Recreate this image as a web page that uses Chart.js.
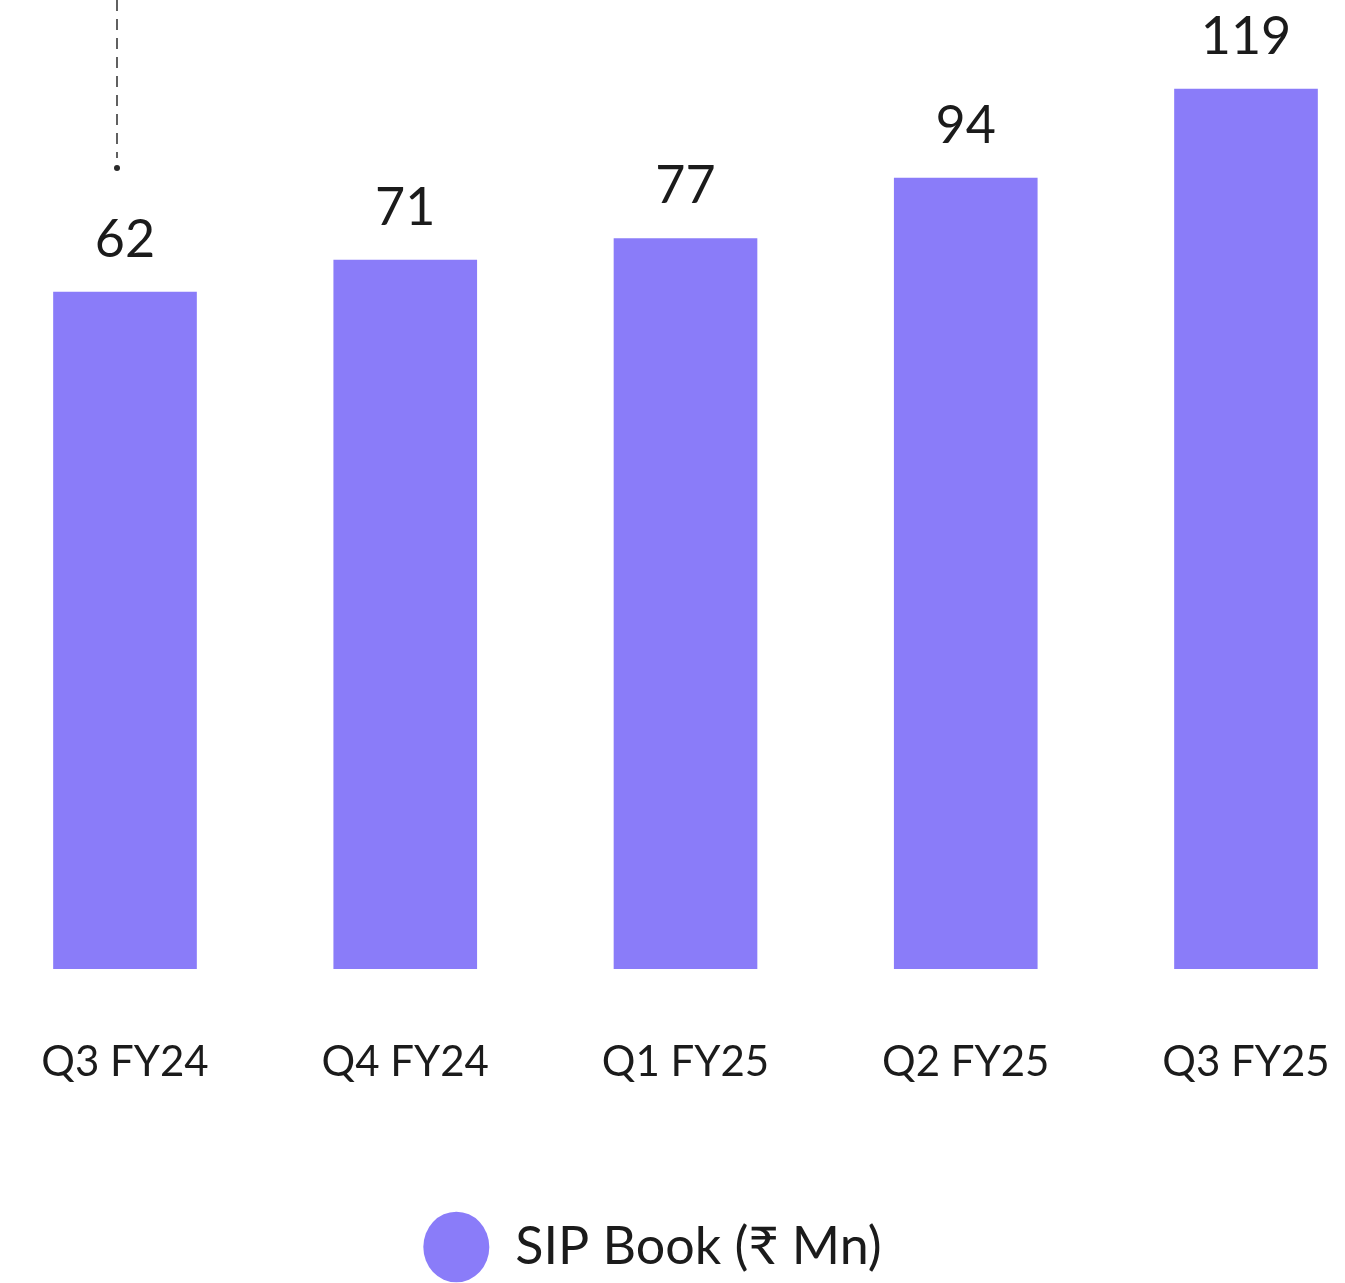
<!DOCTYPE html>
<html>
<head>
<meta charset="utf-8">
<script src="https://cdn.jsdelivr.net/npm/chart.js@4.4.0/dist/chart.umd.min.js"></script>
<style>
  html, body { margin: 0; padding: 0; background: #fff; }
  #wrap { width: 1345px; height: 1283px; }
</style>
</head>
<body>
<div id="wrap"><canvas id="sip-chart"></canvas></div>
<script>
const quarters = ['Q3 FY24', 'Q4 FY24', 'Q1 FY25', 'Q2 FY25', 'Q3 FY25'];
const sipBook = [62, 71, 77, 94, 119];
const seriesName = 'SIP Book (\u20B9 Mn)';

const barColor = '#8a7cf9';
const textColor = '#1b1b1b';
const fontFamily = 'Lato, "Noto Sans", sans-serif';

// the bars in the source are not drawn from zero, so the hidden axis starts below it
const axisMin = -128;
const axisMax = 130;

const valueLabels = {
    id: 'valueLabels',
    afterDatasetsDraw(chart) {
        const ctx = chart.ctx;
        const meta = chart.getDatasetMeta(0);
        ctx.save();
        ctx.font = '52px ' + fontFamily;
        ctx.fillStyle = textColor;
        ctx.textAlign = 'center';
        ctx.textBaseline = 'middle';
        meta.data.forEach((bar, i) => {
            ctx.fillText(sipBook[i], bar.x, bar.y - 52);
        });
        ctx.restore();
    }
};

// dashed leader line coming down from above onto the first bar's label
const leaderLine = {
    id: 'leaderLine',
    afterDatasetsDraw(chart) {
        const ctx = chart.ctx;
        const first = chart.getDatasetMeta(0).data[0];
        const x = first.x - 8;
        const endY = first.y - 124;
        ctx.save();
        ctx.strokeStyle = '#3a3a3a';
        ctx.lineWidth = 1.6;
        ctx.setLineDash([11, 8]);
        ctx.beginPath();
        ctx.moveTo(x, 0);
        ctx.lineTo(x, endY - 10);
        ctx.stroke();
        ctx.setLineDash([]);
        ctx.fillStyle = '#2a2a2a';
        ctx.beginPath();
        ctx.arc(x, endY, 3, 0, Math.PI * 2);
        ctx.fill();
        ctx.restore();
    }
};

// legend sits a little left of the plot centre in the source
const legendShift = {
    id: 'legendShift',
    afterLayout(chart) {
        chart.legend.left -= 33;
        chart.legend.right -= 33;
    }
};

const ctx = document.getElementById('sip-chart').getContext('2d');
const sipChart = new Chart(ctx, {
    type: 'bar',
    data: {
        labels: quarters,
        datasets: [{
            label: seriesName,
            data: sipBook,
            base: axisMin,
            backgroundColor: barColor,
            borderWidth: 0,
            barThickness: 143,
            clip: false
        }]
    },
    options: {
        responsive: true,
        maintainAspectRatio: false,
        animation: false,
        layout: {
            padding: { top: 50, left: 125, right: 99, bottom: 0 }
        },
        scales: {
            x: {
                offset: false,
                grid: { display: false },
                border: { display: false },
                ticks: {
                    color: textColor,
                    font: { family: fontFamily, size: 42 },
                    padding: 61,
                    maxRotation: 0,
                    autoSkip: false
                },
                afterFit(scale) {
                    scale.paddingLeft = 0;
                    scale.paddingRight = 0;
                    scale.height += 52;
                }
            },
            y: {
                display: false,
                min: axisMin,
                max: axisMax
            }
        },
        plugins: {
            legend: {
                position: 'bottom',
                labels: {
                    color: textColor,
                    font: { family: fontFamily, size: 52 },
                    usePointStyle: true,
                    pointStyle: 'circle',
                    boxWidth: 50,
                    boxHeight: 50,
                    pointStyleWidth: 66,
                    padding: 20
                }
            },
            tooltip: { enabled: false }
        }
    },
    plugins: [valueLabels, leaderLine, legendShift]
});
</script>
</body>
</html>
